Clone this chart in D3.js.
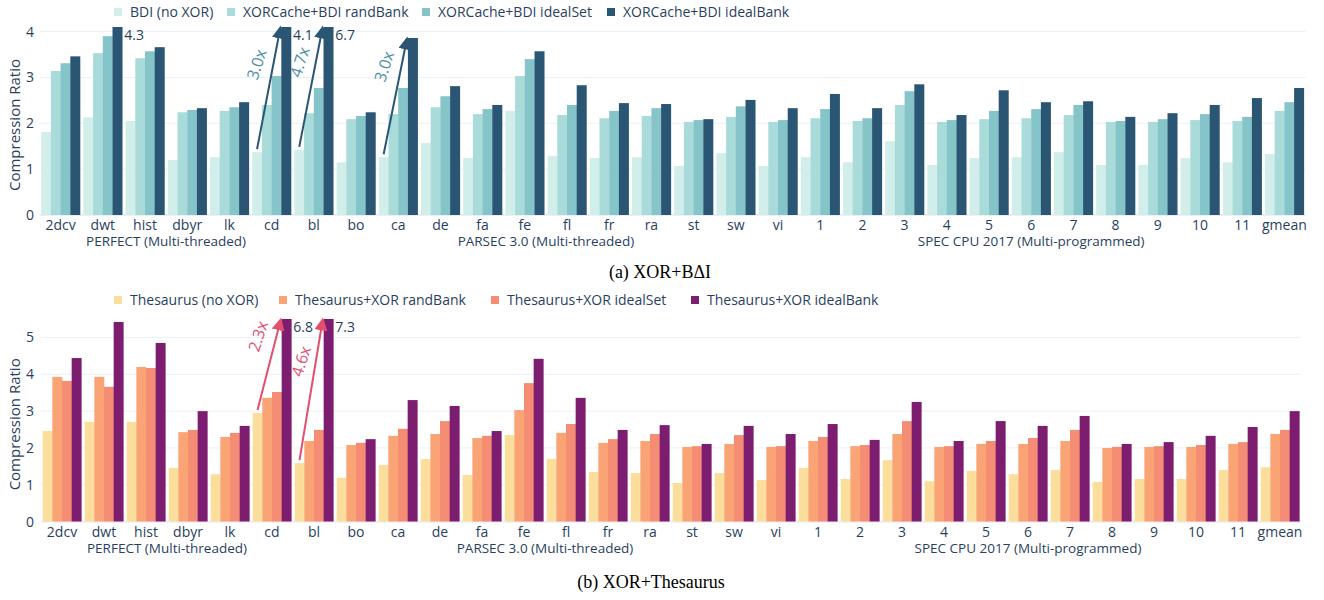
<html>
  <head>
    <style>
      body { margin: 0; background: #fff; }
      text { font-family: 'Open Sans', 'Noto Sans', sans-serif; }
    </style>
  </head>
  <body>
    <script src="https://d3js.org/d3.v7.min.js"></script>
    <svg id="chart" width="1324" height="600"></svg>
    <script>
      const categories = ['2dcv', 'dwt', 'hist', 'dbyr', 'lk', 'cd', 'bl', 'bo', 'ca', 'de', 'fa', 'fe', 'fl', 'fr', 'ra', 'st', 'sw', 'vi',
        '1', '2', '3', '4', '5', '6', '7', '8', '9', '10', '11', 'gmean'];
      // suite label, anchored at a (fractional) category index
      const suites = ['PERFECT (Multi-threaded)', 'PARSEC 3.0 (Multi-threaded)', 'SPEC CPU 2017 (Multi-programmed)'];
      const suiteAt = [2.5, 11.5, 23];

      // (a) XOR + BDI
      const bdiSeries = ['BDI (no XOR)', 'XORCache+BDI randBank', 'XORCache+BDI idealSet', 'XORCache+BDI idealBank'];
      const bdiNoXor = [1.81, 2.13, 2.05, 1.20, 1.26, 1.37, 1.42, 1.15, 1.26, 1.57, 1.24, 2.27, 1.29, 1.24, 1.26, 1.07, 1.35, 1.07,
        1.26, 1.15, 1.61, 1.09, 1.24, 1.26, 1.37, 1.09, 1.09, 1.24, 1.15, 1.33];
      const bdiRandBank = [3.14, 3.53, 3.42, 2.24, 2.27, 2.40, 2.22, 2.09, 2.20, 2.35, 2.20, 3.03, 2.18, 2.11, 2.16, 2.03, 2.14, 2.03,
        2.11, 2.05, 2.40, 2.03, 2.09, 2.11, 2.18, 2.03, 2.03, 2.07, 2.05, 2.27];
      const bdiIdealSet = [3.31, 3.90, 3.57, 2.29, 2.35, 3.03, 2.77, 2.16, 2.77, 2.59, 2.31, 3.40, 2.40, 2.27, 2.33, 2.07, 2.37, 2.07,
        2.31, 2.11, 2.70, 2.07, 2.27, 2.31, 2.40, 2.05, 2.09, 2.20, 2.14, 2.46];
      const bdiIdealBank = [3.46, 4.3, 3.66, 2.33, 2.46, 4.1, 6.7, 2.24, 3.86, 2.81, 2.40, 3.57, 2.83, 2.44, 2.42, 2.09, 2.51, 2.33,
        2.64, 2.33, 2.85, 2.18, 2.72, 2.46, 2.48, 2.14, 2.22, 2.40, 2.55, 2.77];
      const bdiTicks = [0, 1, 2, 3, 4];
      const bdiArrows = [['cd', '3.0x'], ['bl', '4.7x'], ['ca', '3.0x']];

      // (b) XOR + Thesaurus
      const thSeries = ['Thesaurus (no XOR)', 'Thesaurus+XOR randBank', 'Thesaurus+XOR idealSet', 'Thesaurus+XOR idealBank'];
      const thNoXor = [2.46, 2.71, 2.71, 1.46, 1.29, 2.95, 1.59, 1.19, 1.54, 1.70, 1.27, 2.35, 1.70, 1.35, 1.32, 1.05, 1.32, 1.13,
        1.46, 1.16, 1.67, 1.10, 1.38, 1.29, 1.40, 1.08, 1.16, 1.16, 1.40, 1.48];
      const thRandBank = [3.93, 3.93, 4.20, 2.43, 2.30, 3.36, 2.19, 2.08, 2.33, 2.38, 2.27, 3.03, 2.41, 2.14, 2.19, 2.03, 2.11, 2.03,
        2.19, 2.05, 2.38, 2.03, 2.11, 2.11, 2.19, 2.00, 2.03, 2.03, 2.11, 2.38];
      const thIdealSet = [3.82, 3.66, 4.17, 2.49, 2.41, 3.52, 2.49, 2.14, 2.52, 2.73, 2.33, 3.76, 2.65, 2.24, 2.38, 2.05, 2.35, 2.05,
        2.30, 2.08, 2.73, 2.05, 2.19, 2.27, 2.49, 2.03, 2.05, 2.08, 2.16, 2.49];
      const thIdealBank = [4.44, 5.42, 4.85, 3.00, 2.60, 6.8, 7.3, 2.24, 3.30, 3.14, 2.46, 4.42, 3.36, 2.49, 2.62, 2.11, 2.60, 2.38,
        2.65, 2.22, 3.25, 2.19, 2.73, 2.60, 2.87, 2.11, 2.16, 2.33, 2.57, 3.00];
      const thTicks = [0, 1, 2, 3, 4, 5];
      const thArrows = [['cd', '2.3x'], ['bl', '4.6x']];

      const svg = d3.select('#chart');
      const textColor = '#2a3f5f';

      const panels = [
        {
          id: 'a', series: bdiSeries, values: [bdiNoXor, bdiRandBank, bdiIdealSet, bdiIdealBank],
          colors: ['#d1eeea', '#a8dbd9', '#85c4c9', '#2a5674'],
          yMax: 4.1, ticks: bdiTicks, arrows: bdiArrows,
          arrowColor: '#2a5674', arrowText: '#4f90a6',
          x0: 39.5, x1: 1305.5, yTop: 27, yBottom: 215,
          legendY: 12, legendX: [130, 243, 438, 623],
          labelOffsets: [[5, -83], [6, -83], [6, -86]],
          caption: '(a) XOR+B\u0394I', captionX: 660, captionY: 278,
        },
        {
          id: 'b', series: thSeries, values: [thNoXor, thRandBank, thIdealSet, thIdealBank],
          colors: ['#fcde9c', '#faa476', '#f58d74', '#7c1d6f'],
          yMax: 5.5, ticks: thTicks, arrows: thArrows,
          arrowColor: '#e34f6f', arrowText: '#e34f6f',
          x0: 41, x1: 1301, yTop: 319, yBottom: 521.7,
          legendY: 300, legendX: [130, 295, 507, 707],
          labelOffsets: [[6, -72], [7, -97]],
          caption: '(b) XOR+Thesaurus', captionX: 651, captionY: 588,
        },
      ];

      panels.forEach((p) => {
        const g = svg.append('g');
        const x = d3.scaleBand().domain(categories).range([p.x0, p.x1]).paddingInner(0.08).paddingOuter(0.04);
        const xs = d3.scaleBand().domain(d3.range(4)).range([0, x.bandwidth()]);
        const y = d3.scaleLinear().domain([0, p.yMax]).range([p.yBottom, p.yTop]);

        // grid
        g.selectAll('line.grid')
          .data(p.ticks)
          .enter()
          .append('line')
          .attr('x1', p.x0)
          .attr('x2', p.x1)
          .attr('y1', (d) => y(d))
          .attr('y2', (d) => y(d))
          .attr('stroke', '#ebf0f8')
          .attr('stroke-width', (d) => (d === 0 ? 2 : 1));

        // y tick labels
        g.selectAll('text.ytick')
          .data(p.ticks)
          .enter()
          .append('text')
          .text((d) => d)
          .attr('x', 34)
          .attr('y', (d) => y(d) + 5)
          .attr('text-anchor', 'end')
          .attr('font-size', 14)
          .attr('fill', textColor);

        g.append('text')
          .text('Compression Ratio')
          .attr('transform', `translate(20,${(p.yTop + p.yBottom) / 2 + 4}) rotate(-90)`)
          .attr('text-anchor', 'middle')
          .attr('font-size', 15)
          .attr('fill', textColor);

        const clipId = 'clip-' + p.id;
        svg.append('clipPath').attr('id', clipId)
          .append('rect')
          .attr('x', p.x0).attr('y', p.yTop)
          .attr('width', p.x1 - p.x0).attr('height', p.yBottom - p.yTop);

        const bars = g.append('g').attr('clip-path', `url(#${clipId})`);
        p.values.forEach((vals, si) => {
          bars.selectAll(null)
            .data(vals)
            .enter()
            .append('rect')
            .attr('x', (_, i) => x(categories[i]) + xs(si))
            .attr('width', xs.bandwidth() + 0.3)
            .attr('y', (d) => y(Math.min(d, p.yMax)))
            .attr('height', (d) => y(0) - y(Math.min(d, p.yMax)))
            .attr('fill', p.colors[si]);
        });

        // value labels on clipped bars
        const last = p.values[3];
        g.selectAll(null)
          .data(last.map((v, i) => ({ v, i })).filter((d) => d.v > p.yMax - 0.05))
          .enter()
          .append('text')
          .text((d) => d.v.toFixed(1))
          .attr('x', (d) => x(categories[d.i]) + xs(3) + xs.bandwidth() + 2)
          .attr('y', p.yTop + 13)
          .attr('font-size', 14)
          .attr('fill', textColor);

        // category labels
        g.selectAll(null)
          .data(categories)
          .enter()
          .append('text')
          .text((d) => d)
          .attr('x', (d) => x(d) + x.bandwidth() / 2)
          .attr('y', p.yBottom + 15)
          .attr('text-anchor', 'middle')
          .attr('font-size', 14)
          .attr('fill', textColor);

        // suite labels
        const step = x.step();
        g.selectAll(null)
          .data(suites)
          .enter()
          .append('text')
          .text((d) => d)
          .attr('x', (_, i) => x(categories[0]) + x.bandwidth() / 2 + suiteAt[i] * step)
          .attr('y', p.yBottom + 31)
          .attr('text-anchor', 'middle')
          .attr('font-size', 13.5)
          .attr('fill', textColor);

        // arrows
        const defs = svg.append('defs');
        defs.append('marker')
          .attr('id', 'head-' + p.id)
          .attr('viewBox', '0 0 10 10')
          .attr('refX', 8).attr('refY', 5)
          .attr('markerWidth', 6.5).attr('markerHeight', 6.5)
          .attr('orient', 'auto')
          .append('path')
          .attr('d', 'M0,0 L10,5 L0,10 z')
          .attr('fill', p.arrowColor);

        p.arrows.forEach(([cat, label], k) => {
          const i = categories.indexOf(cat);
          const sx = x(cat) + xs(0) + xs.bandwidth() / 2;
          const sy = y(p.values[0][i]) - 3;
          const ex = x(cat) + xs(3) - 1;
          const ey = y(Math.min(p.values[3][i], p.yMax)) + 1;
          g.append('line')
            .attr('x1', sx).attr('y1', sy)
            .attr('x2', ex).attr('y2', ey)
            .attr('stroke', p.arrowColor)
            .attr('stroke-width', 2)
            .attr('marker-end', `url(#head-${p.id})`);
          const [ox, oy] = p.labelOffsets[k];
          g.append('text')
            .text(label)
            .attr('transform', `translate(${sx + ox},${sy + oy}) rotate(-72)`)
            .attr('text-anchor', 'middle')
            .attr('font-size', 16)
            .attr('fill', p.arrowText);
        });

        // legend
        const lg = g.selectAll(null)
          .data(p.series)
          .enter()
          .append('g')
          .attr('transform', (_, i) => `translate(${p.legendX[i]},${p.legendY})`);
        lg.append('rect')
          .attr('x', -16).attr('y', -4)
          .attr('width', 8).attr('height', 8)
          .attr('fill', (_, i) => p.colors[i]);
        lg.append('text')
          .text((d) => d)
          .attr('y', 5)
          .attr('font-size', 14)
          .attr('fill', textColor);

        g.append('text')
          .text(p.caption)
          .attr('x', p.captionX)
          .attr('y', p.captionY)
          .attr('text-anchor', 'middle')
          .attr('font-size', 18)
          .style('font-family', "'Liberation Serif', serif")
          .attr('fill', '#000');
      });
    </script>
  </body>
</html>
